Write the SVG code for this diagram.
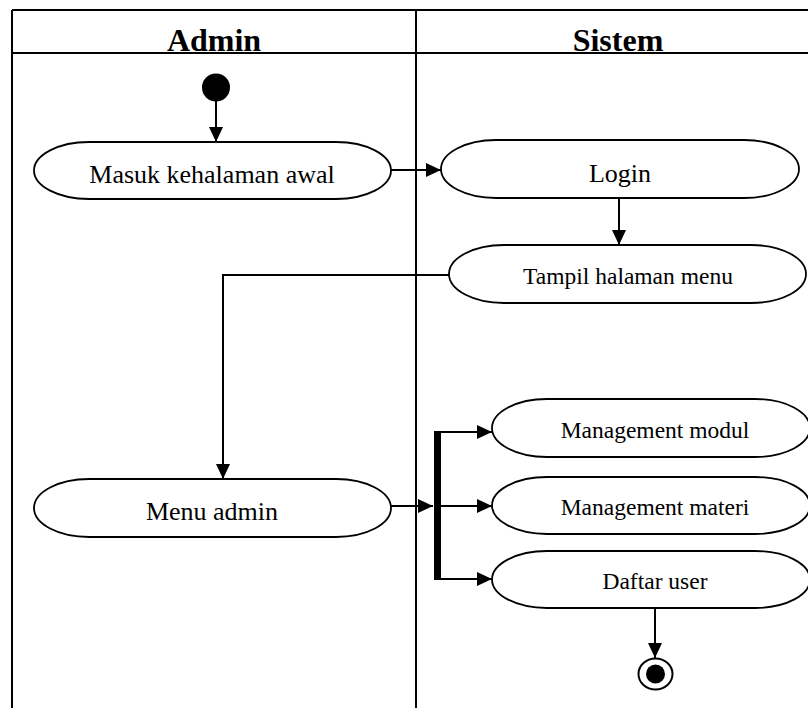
<svg xmlns="http://www.w3.org/2000/svg" width="808" height="708" viewBox="0 0 808 708">
<style>
.frame{stroke:#000;stroke-width:2;fill:none}
.act{fill:#fff;stroke:#000;stroke-width:1.8}
.lbl{font-family:"Liberation Serif","Times New Roman",serif;fill:#000;text-anchor:middle}
.hdr{font-family:"Liberation Serif","Times New Roman",serif;font-weight:bold;font-size:32px;fill:#000;text-anchor:middle}
.edge{stroke:#000;stroke-width:2;fill:none}
</style>
<defs>
<marker id="arr" markerUnits="userSpaceOnUse" markerWidth="16" markerHeight="16" viewBox="0 0 16 16" refX="15" refY="8" orient="auto">
<path d="M0,1 L15,8 L0,15 Z" fill="#000"/>
</marker>
</defs>
<rect width="808" height="708" fill="#fff"/>
<g id="swimlanes">
<line class="frame" x1="12" y1="10" x2="808" y2="10"/>
<line class="frame" x1="12" y1="53" x2="808" y2="53"/>
<line class="frame" x1="12" y1="10" x2="12" y2="708"/>
<line class="frame" x1="416" y1="10" x2="416" y2="708"/>
<text class="hdr" x="214" y="51">Admin</text>
<text class="hdr" x="618" y="51">Sistem</text>
</g>
<g id="start"><ellipse cx="216" cy="87.5" rx="14" ry="14" fill="#000"/></g>
<g id="masuk"><rect class="act" x="34" y="142" width="357" height="57" rx="55" ry="28.5"/><text class="lbl" x="212" y="183" font-size="26">Masuk kehalaman awal</text></g>
<g id="login"><rect class="act" x="441" y="140" width="358" height="58" rx="55" ry="29"/><text class="lbl" x="620" y="182" font-size="26">Login</text></g>
<g id="tampil"><rect class="act" x="449" y="245" width="357" height="58" rx="55" ry="29"/><text class="lbl" x="628" y="284" font-size="23.5">Tampil halaman menu</text></g>
<g id="menuadmin"><rect class="act" x="34" y="479" width="357" height="58" rx="55" ry="29"/><text class="lbl" x="212" y="520" font-size="26">Menu admin</text></g>
<g id="fork"><rect x="434" y="431" width="7" height="149" fill="#000"/></g>
<g id="modul"><rect class="act" x="492" y="399" width="318" height="58" rx="55" ry="29"/><text class="lbl" x="655" y="438" font-size="23.5">Management modul</text></g>
<g id="materi"><rect class="act" x="492" y="477" width="318" height="57" rx="55" ry="28.5"/><text class="lbl" x="655" y="515" font-size="23.5">Management materi</text></g>
<g id="daftar"><rect class="act" x="492" y="551" width="318" height="57" rx="55" ry="28.5"/><text class="lbl" x="655" y="589" font-size="23.5">Daftar user</text></g>
<g id="end"><ellipse cx="655.5" cy="674" rx="17" ry="15.5" fill="#fff" stroke="#000" stroke-width="2"/><ellipse cx="655.5" cy="674" rx="9.5" ry="9.5" fill="#000"/></g>
<g id="connectors">
<line class="edge" x1="216" y1="101" x2="216" y2="142" marker-end="url(#arr)"/>
<line class="edge" x1="391" y1="170" x2="441" y2="170" marker-end="url(#arr)"/>
<line class="edge" x1="619" y1="198" x2="619" y2="245" marker-end="url(#arr)"/>
<polyline class="edge" points="449,275 223,275 223,479" marker-end="url(#arr)"/>
<line class="edge" x1="391" y1="506" x2="433" y2="506" marker-end="url(#arr)"/>
<line class="edge" x1="441" y1="432" x2="492" y2="432" marker-end="url(#arr)"/>
<line class="edge" x1="441" y1="506" x2="492" y2="506" marker-end="url(#arr)"/>
<line class="edge" x1="441" y1="579" x2="492" y2="579" marker-end="url(#arr)"/>
<line class="edge" x1="655" y1="608" x2="655" y2="658" marker-end="url(#arr)"/>
</g>
</svg>
